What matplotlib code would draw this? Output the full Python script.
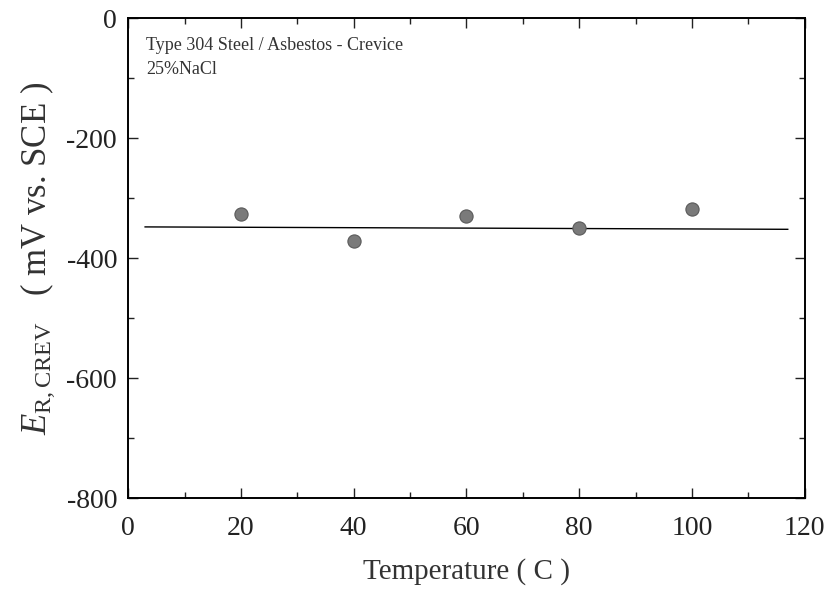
import matplotlib.pyplot as plt

plt.rcParams['font.family'] = 'Liberation Serif'
plt.rcParams['mathtext.fontset'] = 'custom'
plt.rcParams['mathtext.rm'] = 'Liberation Serif'
plt.rcParams['mathtext.it'] = 'Liberation Serif:italic'
plt.rcParams['axes.unicode_minus'] = False

# data
temps = [20, 40, 60, 80, 100]
e_rcrev = [-327, -372, -330, -350, -318]

# fitted line endpoints
fit_x = [3, 117]
fit_y = [-348, -352]

fig = plt.figure(figsize=(8.27, 5.91), dpi=100)
ax = fig.add_axes([0.155, 0.157, 0.818, 0.8125])

ax.plot(fit_x, fit_y, color='black', lw=1.0)
ax.plot(temps, e_rcrev, 'o', ms=9.5, color='#7a7a7a', mec='#5a5a5a', mew=0.8)

ax.set_xlim(0, 120)
ax.set_ylim(-800, 0)
ax.set_xticks(range(0, 121, 20))
ax.set_yticks(range(-800, 1, 200))
ax.set_xticks(range(0, 121, 10), minor=True)
ax.set_yticks(range(-800, 1, 100), minor=True)
ax.tick_params(which='both', direction='in', top=True, right=True, labelsize=20, colors='#222222')
ax.tick_params(axis='x', which='major', length=7, width=1.0, pad=13)
ax.tick_params(axis='y', which='major', length=7, width=1.0, pad=8)
ax.tick_params(which='minor', length=4, width=1.0)
for s in ax.spines.values():
    s.set_linewidth(1.4)

ax.set_xlabel('Temperature ( C )', fontsize=21, color='#333333', labelpad=12)
ax.set_ylabel(r'$\mathit{E}_{\mathrm{R,CREV}}$   ( mV vs. SCE )', fontsize=25, color='#333333', labelpad=7)

ax.text(0.027, 0.96, 'Type 304 Steel / Asbestos - Crevice\n25%NaCl', transform=ax.transAxes,
        fontsize=13, va='top', ha='left', color='#333333', linespacing=1.55)

plt.savefig('out.png', dpi=100)
